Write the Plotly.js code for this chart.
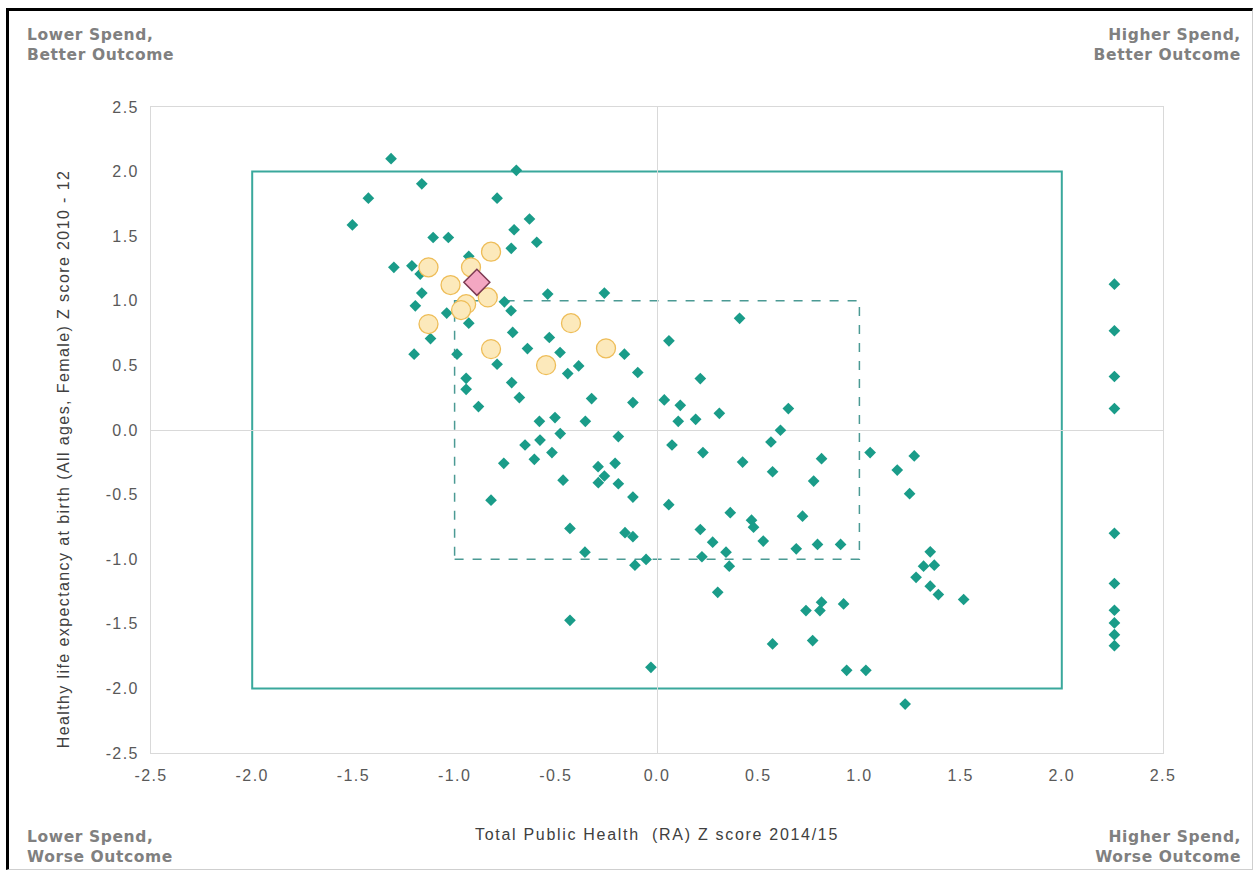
<!DOCTYPE html>
<html>
<head>
<meta charset="utf-8">
<script src="https://cdn.plot.ly/plotly-3.0.1.min.js"></script>
<style>
html,body{margin:0;padding:0;background:#fff;}
#chart{width:1255px;height:871px;position:absolute;left:0;top:0;}
#frame{position:absolute;left:6px;top:8px;width:1243px;height:858px;border-left:3px solid #000;border-top:3px solid #000;border-right:1px solid #cfcfcf;border-bottom:1px solid #cfcfcf;pointer-events:none;}
#chart .xtick text, #chart .ytick text {letter-spacing:1.4px;}
#chart .xtitle {letter-spacing:1.7px;}
#chart .annotation.ttl text {letter-spacing:1.4px;}
#chart .annotation.corner text {letter-spacing:0.6px;}
</style>
</head>
<body>
<div id="chart"></div>
<div id="frame"></div>
<script>
// Teal diamonds: all other areas
const otherX = [-1.314,-0.695,-1.162,-1.426,-0.79,-1.505,-0.63,-0.706,-1.106,-1.031,-0.72,-0.594,-1.30,-1.211,-0.93,-1.17,-1.162,-1.194,-1.039,-0.93,-0.754,-0.721,-0.713,-1.119,-1.20,-0.988,-0.64,-0.54,-0.26,-0.479,-0.161,-0.79,-0.441,-0.387,-0.095,-0.943,-0.718,-0.532,-0.943,-0.68,-0.882,-0.323,-0.119,0.036,0.115,0.105,0.191,0.308,0.059,0.214,0.408,-0.581,-0.504,-0.354,-0.478,-0.652,-0.578,-0.191,-0.519,-0.606,-0.757,-0.291,-0.207,-0.26,-0.29,-0.191,-0.464,0.074,0.227,0.423,-0.119,0.058,-0.82,-0.43,-0.158,-0.119,-0.356,-0.109,-0.054,0.214,0.275,0.341,0.357,0.222,0.362,0.30,0.649,0.61,0.563,0.571,0.813,0.774,1.053,1.271,1.187,1.248,0.467,0.477,0.719,0.525,0.688,0.793,0.907,1.35,1.317,1.37,1.28,1.35,1.39,1.515,0.736,0.813,0.805,0.922,0.571,0.769,0.937,1.032,1.226,-0.43,-0.03,2.26,2.26,2.26,2.26,2.26,2.26,2.26,2.26,2.26,2.26];
const otherY = [2.10,2.01,1.905,1.794,1.794,1.587,1.633,1.55,1.49,1.49,1.406,1.453,1.259,1.271,1.344,1.207,1.06,0.961,0.905,0.827,0.992,0.923,0.755,0.708,0.587,0.587,0.63,1.052,1.06,0.60,0.587,0.509,0.437,0.496,0.445,0.40,0.367,0.716,0.315,0.251,0.181,0.243,0.212,0.233,0.191,0.067,0.083,0.129,0.69,0.398,0.864,0.067,0.096,0.067,-0.028,-0.116,-0.078,-0.051,-0.175,-0.227,-0.258,-0.284,-0.258,-0.356,-0.408,-0.416,-0.388,-0.116,-0.175,-0.248,-0.519,-0.578,-0.543,-0.762,-0.795,-0.826,-0.946,-1.046,-1.002,-0.77,-0.868,-0.946,-1.054,-0.981,-0.64,-1.256,0.166,-0.002,-0.093,-0.323,-0.222,-0.395,-0.175,-0.201,-0.31,-0.493,-0.698,-0.752,-0.667,-0.86,-0.92,-0.886,-0.886,-0.943,-1.054,-1.046,-1.14,-1.209,-1.274,-1.312,-1.398,-1.333,-1.398,-1.346,-1.656,-1.63,-1.86,-1.86,-2.121,-1.473,-1.837,1.129,0.768,0.414,0.166,-0.80,-1.188,-1.395,-1.493,-1.584,-1.669];
// Yellow circles: comparator areas
const compX = [-1.129,-0.82,-0.919,-1.02,-0.836,-0.943,-0.968,-1.129,-0.82,-0.425,-0.548,-0.252];
const compY = [1.259,1.38,1.259,1.122,1.026,0.974,0.928,0.82,0.626,0.827,0.502,0.632];
// Pink diamond: selected area
const selX = [-0.89];
const selY = [1.143];
// Reference boxes (Z score bounds)
const outerBound = 2;
const innerBound = 1;
const tickVals = [-2.5,-2.0,-1.5,-1.0,-0.5,0.0,0.5,1.0,1.5,2.0,2.5];
const tickText = ['-2.5','-2.0','-1.5','-1.0','-0.5','0.0','0.5','1.0','1.5','2.0','2.5'];
const xTitle = 'Total Public Health  (RA) Z score 2014/15';
const yTitle = 'Healthy life expectancy at birth (All ages, Female) Z score 2010 - 12';

const traces = [
  {type:'scatter', mode:'markers', x:otherX, y:otherY, name:'Other areas',
   marker:{symbol:'diamond', size:9, color:'#1a9c89', line:{width:0}}, hoverinfo:'x+y'},
  {type:'scatter', mode:'markers', x:compX, y:compY, name:'Comparators',
   marker:{symbol:'circle', size:19, color:'#fce9bb', line:{width:1.3, color:'#eebd58'}}, hoverinfo:'x+y'},
  {type:'scatter', mode:'markers', x:selX, y:selY, name:'Selected area',
   marker:{symbol:'diamond', size:20, color:'#f4a7c2', line:{width:1.5, color:'#7d3a52'}}, hoverinfo:'x+y'}
];

const tickFont = {family:'"Liberation Sans", Arial, sans-serif', size:16, color:'#595959'};
const titleFont = {family:'"Liberation Sans", Arial, sans-serif', size:16, color:'#404040'};
const cornerFont = {family:'"DejaVu Sans", sans-serif', size:15.5, color:'#808080'};
function bold(t){return '<b>'+t+'</b>';}

const layout = {
  width:1255, height:871,
  margin:{l:151, r:92, t:107, b:118, pad:0},
  paper_bgcolor:'#ffffff', plot_bgcolor:'#ffffff',
  showlegend:false,
  xaxis:{range:[-2.5,2.5], tickvals:tickVals, ticktext:tickText, showgrid:false,
    zeroline:true, zerolinecolor:'#d9d9d9', zerolinewidth:1,
    showline:true, mirror:true, linecolor:'#d9d9d9', linewidth:1,
    ticks:'outside', ticklen:8, tickcolor:'rgba(0,0,0,0)', tickfont:tickFont,
    title:{text:xTitle, font:titleFont, standoff:45}},
  yaxis:{range:[-2.5,2.5], tickvals:tickVals, ticktext:tickText, showgrid:false,
    zeroline:true, zerolinecolor:'#d9d9d9', zerolinewidth:1,
    showline:true, mirror:true, linecolor:'#d9d9d9', linewidth:1,
    ticks:'outside', ticklen:8, tickcolor:'rgba(0,0,0,0)', tickfont:tickFont},
  shapes:[
    {type:'rect', xref:'x', yref:'y', x0:-outerBound, x1:outerBound, y0:-outerBound, y1:outerBound,
     line:{color:'#3aa89c', width:2}, layer:'below'},
    {type:'rect', xref:'x', yref:'y', x0:-innerBound, x1:innerBound, y0:-innerBound, y1:innerBound,
     line:{color:'#4b9a94', width:1.5, dash:'dash'}, layer:'below'}
  ],
  annotations:[
    {xref:'paper', yref:'paper', x:-0.087, y:0.455, xanchor:'center', yanchor:'middle', textangle:-90, showarrow:false,
     text:yTitle, font:titleFont},
    {xref:'paper', yref:'paper', x:-0.125, y:1.1285, xanchor:'left', yanchor:'top', align:'left', showarrow:false,
     text:bold('Lower Spend,')+'<br>'+bold('Better Outcome'), font:cornerFont},
    {xref:'paper', yref:'paper', x:1.079, y:1.1285, xanchor:'right', yanchor:'top', align:'right', showarrow:false,
     text:bold('Higher Spend,')+'<br>'+bold('Better Outcome'), font:cornerFont},
    {xref:'paper', yref:'paper', x:-0.125, y:-0.178, xanchor:'left', yanchor:'bottom', align:'left', showarrow:false,
     text:bold('Lower Spend,')+'<br>'+bold('Worse Outcome'), font:cornerFont},
    {xref:'paper', yref:'paper', x:1.079, y:-0.178, xanchor:'right', yanchor:'bottom', align:'right', showarrow:false,
     text:bold('Higher Spend,')+'<br>'+bold('Worse Outcome'), font:cornerFont}
  ]
};

Plotly.newPlot('chart', traces, layout, {displayModeBar:false, staticPlot:true}).then(function(gd){
  const anns = document.querySelectorAll('#chart .annotation');
  anns.forEach(function(a, i){ a.classList.add(i === 0 ? 'ttl' : 'corner'); });
});
</script>
</body>
</html>
